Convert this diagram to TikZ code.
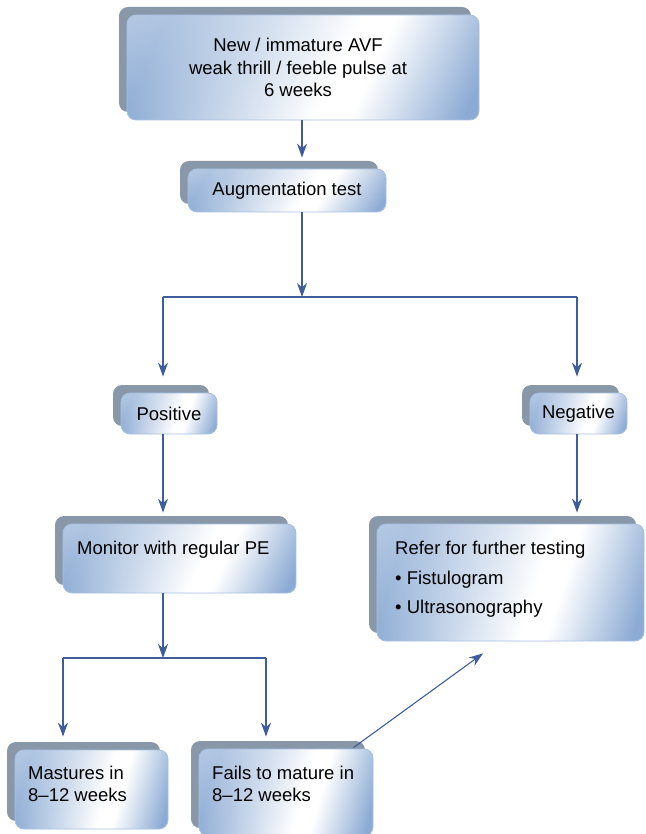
\documentclass[tikz,border=0pt]{standalone}
\usepackage{fontspec}
\setmainfont{Liberation Sans}
\usetikzlibrary{arrows.meta,shadows,calc}
\definecolor{shd}{HTML}{8898A8}
\definecolor{bd}{HTML}{A6C0E2}
\definecolor{ar}{HTML}{3F5C9B}
\pgfdeclarefunctionalshading{boxshade}{\pgfpoint{0bp}{0bp}}{\pgfpoint{100bp}{100bp}}{}{
  25 sub 50 div exch 25 sub 50 div exch
  2 copy 0.14 mul 0.58 add sub
  dup 0 lt {neg 0.05 sub 0.55 div} {0.05 sub 0.32 div} ifelse
  dup 0 lt {pop 0} if
  dup 1 gt {pop 1} if
  3 1 roll exch 1 exch sub mul 0.35 mul 1 exch sub mul
  dup 0.45 mul 1 exch sub
  exch dup 0.33 mul 1 exch sub
  exch 0.17 mul 1 exch sub
}
\tikzset{
  box/.style={draw=bd, line width=0.8pt, rounded corners=9pt,
    shading=boxshade,
    inner sep=0pt, align=center, font=\fontsize{18.5}{22.5}\selectfont,
    general shadow={shadow xshift=-8pt, shadow yshift=8pt, fill=shd, draw=none}},
  txt/.style={inner sep=0pt, anchor=base west, font=\fontsize{18.5}{22.5}\selectfont},
  conn/.style={draw=ar, line width=1.1pt},
  arr/.style={conn, -{Stealth[length=14pt,width=10pt,inset=4.5pt]}}
}
\begin{document}
\begin{tikzpicture}[x=1pt,y=-1pt]
\useasboundingbox (0,0) rectangle (645,834);
% boxes
\node[box, minimum width=352pt, minimum height=105pt] (b1) at (303,67.5) {};
\node[inner sep=0pt, align=center, font=\fontsize{18.5}{22.5}\selectfont] (b1t) at (298,67.5)
  {New / immature AVF\\weak thrill / feeble pulse at\\6 weeks};
\node[box, minimum width=198pt, minimum height=43pt] (b2) at (287,190.5) {Augmentation test};
\node[box, minimum width=96pt, minimum height=41pt] (pos) at (169,413.5) {Positive};
\node[box, minimum width=97pt, minimum height=41pt] (neg) at (578.5,413.5) {Negative};
\node[box, minimum width=233pt, minimum height=69pt] (mon) at (179.5,558.5) {};
\node[box, minimum width=267pt, minimum height=117pt] (ref) at (510.5,582.5) {};
\node[box, minimum width=153pt, minimum height=79pt] (mas) at (91.5,789.5) {};
\node[box, minimum width=174pt, minimum height=87pt] (fail) at (286,792.5) {};
% texts
\node[txt] (mont) at (77,554.5) {Monitor with regular PE};
\node[txt] (ref1) at (395,554.5) {Refer for further testing};
\node[txt] (ref2) at (395,584.5) {\textbullet\ Fistulogram};
\node[txt] (ref3) at (395,613.5) {\textbullet\ Ultrasonography};
\node[txt] (mas1) at (28,779.5) {Mastures in};
\node[txt] (mas2) at (28,801.5) {8--12 weeks};
\node[txt] (fai1) at (212,779.5) {Fails to mature in};
\node[txt] (fai2) at (212,801.5) {8--12 weeks};
% junctions
\coordinate (sC) at (302,297);
\coordinate (sL) at (163,297);
\coordinate (sR) at (577,297);
\coordinate (tC) at (163,658);
\coordinate (tL) at (63,658);
\coordinate (tR) at (266,658);
% connectors
\draw[arr, shorten >=11pt] (sC |- b1.south) -- (sC |- b2.north);
\draw[arr] (sC |- b2.south) -- (sC);
\draw[conn] (sL) -- (sR);
\draw[arr, shorten >=16pt] (sL) -- (sL |- pos.north);
\draw[arr, shorten >=16pt] (sR) -- (sR |- neg.north);
\draw[arr, shorten >=11pt] (sL |- pos.south) -- (sL |- mon.north);
\draw[arr, shorten >=11pt] (sR |- neg.south) -- (sR |- ref.north);
\draw[arr] (tC |- mon.south) -- (tC);
\draw[conn] (tL) -- (tR);
\draw[arr, shorten >=13pt] (tL) -- (tL |- mas.north);
\draw[arr, shorten >=12pt] (tR) -- (tR |- fail.north);
\draw[arr] ($(fail.north east)+(-20,-1)$) -- ($(ref.south)+(-27.5,12)$);
\end{tikzpicture}
\end{document}
